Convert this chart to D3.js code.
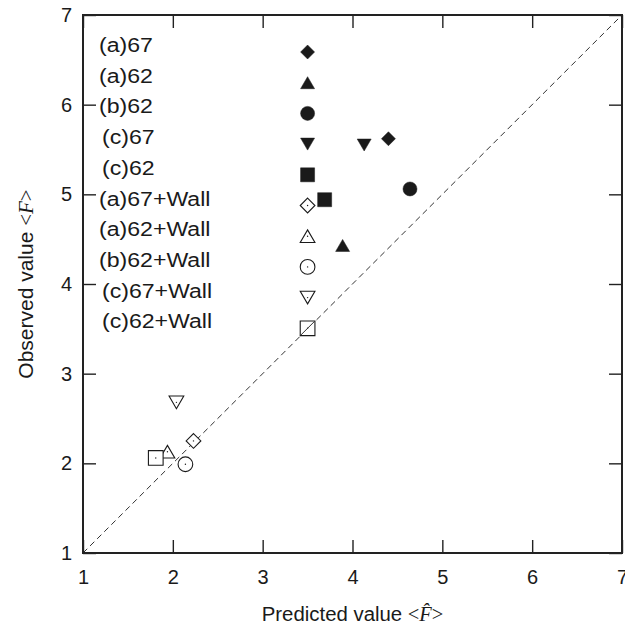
<!DOCTYPE html>
<html>
<head>
<meta charset="utf-8">
<script src="https://cdn.jsdelivr.net/npm/d3@7"></script>
<style>
  body { margin: 0; background: #fff; }
  text { font-family: "Liberation Sans", Arial, sans-serif; fill: #1a1a1a; }
</style>
</head>
<body>
<svg id="chart"></svg>
<script>
// series names, in legend order
const series = ['(a)67', '(a)62', '(b)62', '(c)67', '(c)62',
  '(a)67+Wall', '(a)62+Wall', '(b)62+Wall', '(c)67+Wall', '(c)62+Wall'];
const shapes = ['diamond', 'triangle', 'circle', 'triangleDown', 'square',
  'diamond', 'triangle', 'circle', 'triangleDown', 'square'];
const filled = [true, true, true, true, true, false, false, false, false, false];

// predicted <F^> and observed <F>
const predicted = [4.40, 3.89, 4.64, 4.13, 3.69, 2.23, 1.94, 2.14, 2.04, 1.81];
const observed = [5.62, 4.43, 5.06, 5.55, 4.94, 2.25, 2.13, 1.99, 2.68, 2.06];

const ticks = [1, 2, 3, 4, 5, 6, 7];
const legendAt = 3.5; // legend markers sit at x = 3.5

const W = 625, H = 627;
const margin = { top: 15, right: 3, bottom: 74, left: 83 };
const width = W - margin.left - margin.right;
const height = H - margin.top - margin.bottom;

const svg = d3.select('#chart').attr('width', W).attr('height', H)
  .append('g')
  .attr('transform', `translate(${margin.left},${margin.top})`);

const x = d3.scaleLinear().domain([1, 7]).range([0, width]);
const y = d3.scaleLinear().domain([1, 7]).range([height, 0]);

// 1:1 dashed line
svg.append('line')
  .attr('x1', x(1)).attr('y1', y(1))
  .attr('x2', x(7)).attr('y2', y(7))
  .attr('stroke', '#333').attr('stroke-width', 1)
  .attr('stroke-dasharray', '6,4');

// axes with inward ticks on all sides
const tl = 13;
const fmt = d3.format('d');
svg.append('g').attr('transform', `translate(0,${height})`)
  .call(d3.axisBottom(x).tickValues(ticks).tickFormat(fmt).tickSizeInner(-tl).tickSizeOuter(0).tickPadding(17))
  .call(g => g.select('.domain').remove());
svg.append('g')
  .call(d3.axisTop(x).tickValues(ticks).tickSizeInner(-tl).tickSizeOuter(0).tickFormat(''))
  .call(g => g.select('.domain').remove());
svg.append('g')
  .call(d3.axisLeft(y).tickValues(ticks).tickFormat(fmt).tickSizeInner(-tl).tickSizeOuter(0).tickPadding(11))
  .call(g => g.select('.domain').remove());
svg.append('g').attr('transform', `translate(${width},0)`)
  .call(d3.axisRight(y).tickValues(ticks).tickSizeInner(-tl).tickSizeOuter(0).tickFormat(''))
  .call(g => g.select('.domain').remove());

svg.selectAll('.tick line').attr('stroke', '#222').attr('stroke-width', 1.4);
svg.selectAll('.tick text')
  .style('font-family', '"Liberation Sans", Arial, sans-serif')
  .style('font-size', '20px').attr('fill', '#1a1a1a');

svg.append('rect')
  .attr('width', width).attr('height', height)
  .attr('fill', 'none').attr('stroke', '#222').attr('stroke-width', 2);

// marker paths
function shapePath(shape, open) {
  const s = open ? 1.05 : 1;
  if (shape === 'diamond') {
    const r = 7 * s;
    return `M0,${-r}L${r},0L0,${r}L${-r},0Z`;
  }
  if (shape === 'triangle') {
    const w = 7 * s, h = 6 * s;
    return `M0,${-h}L${w},${h}L${-w},${h}Z`;
  }
  if (shape === 'triangleDown') {
    const w = 7 * s, h = 6 * s;
    return `M0,${h}L${w},${-h}L${-w},${-h}Z`;
  }
  if (shape === 'square') {
    const r = 7 * s;
    return `M${-r},${-r}H${r}V${r}H${-r}Z`;
  }
  const r = 7 * s;
  return `M${r},0A${r},${r} 0 1,1 ${-r},0A${r},${r} 0 1,1 ${r},0Z`;
}

function drawMarker(g, i) {
  const open = !filled[i];
  g.append('path')
    .attr('d', shapePath(shapes[i], open))
    .attr('fill', open ? '#fff' : '#1a1a1a')
    .attr('stroke', '#1a1a1a')
    .attr('stroke-width', open ? 1.1 : 0.5);
  if (open) {
    g.append('circle').attr('r', 0.7).attr('fill', '#1a1a1a');
  }
}

// legend (drawn first so data points sit on top)
const legTop = 52, legStep = 30.7;
series.forEach((name, i) => {
  const ly = legTop + i * legStep - margin.top;
  const lx = name.startsWith('(c)') ? 102 : 99;
  svg.append('text')
    .attr('transform', `translate(${lx - margin.left},${ly}) scale(1.1,1)`)
    .style('font-size', '21px')
    .text(name);
  const g = svg.append('g').attr('transform', `translate(${x(legendAt)},${ly})`);
  drawMarker(g, i);
  if (shapes[i] === 'square' && !filled[i]) {
    // the dashed 1:1 line shows through the open square in the legend
    g.append('line').attr('x1', -7).attr('y1', 7).attr('x2', 7).attr('y2', -7)
      .attr('stroke', '#333').attr('stroke-width', 1);
  }
});

// data points
series.forEach((name, i) => {
  const g = svg.append('g').attr('transform', `translate(${x(predicted[i])},${y(observed[i])})`);
  drawMarker(g, i);
});

// axis titles
const xt = svg.append('text')
  .attr('transform', `translate(${width / 2},${height + 68}) scale(1.02,1)`)
  .attr('text-anchor', 'middle')
  .style('font-size', '20px');
xt.append('tspan').text('Predicted value ');
xt.append('tspan').style('font-family', '"Liberation Serif", serif').text('<');
xt.append('tspan').style('font-family', '"Liberation Serif", serif').style('font-style', 'italic').text('F\u0302');
xt.append('tspan').style('font-family', '"Liberation Serif", serif').text('>');

const yt = svg.append('text')
  .attr('transform', `translate(${33 - margin.left},${height / 2}) rotate(-90) scale(1.05,1)`)
  .attr('text-anchor', 'middle')
  .style('font-size', '20px');
yt.append('tspan').text('Observed value ');
yt.append('tspan').style('font-family', '"Liberation Serif", serif').text('<');
yt.append('tspan').style('font-family', '"Liberation Serif", serif').style('font-style', 'italic').text('F');
yt.append('tspan').style('font-family', '"Liberation Serif", serif').text('>');
</script>
</body>
</html>
